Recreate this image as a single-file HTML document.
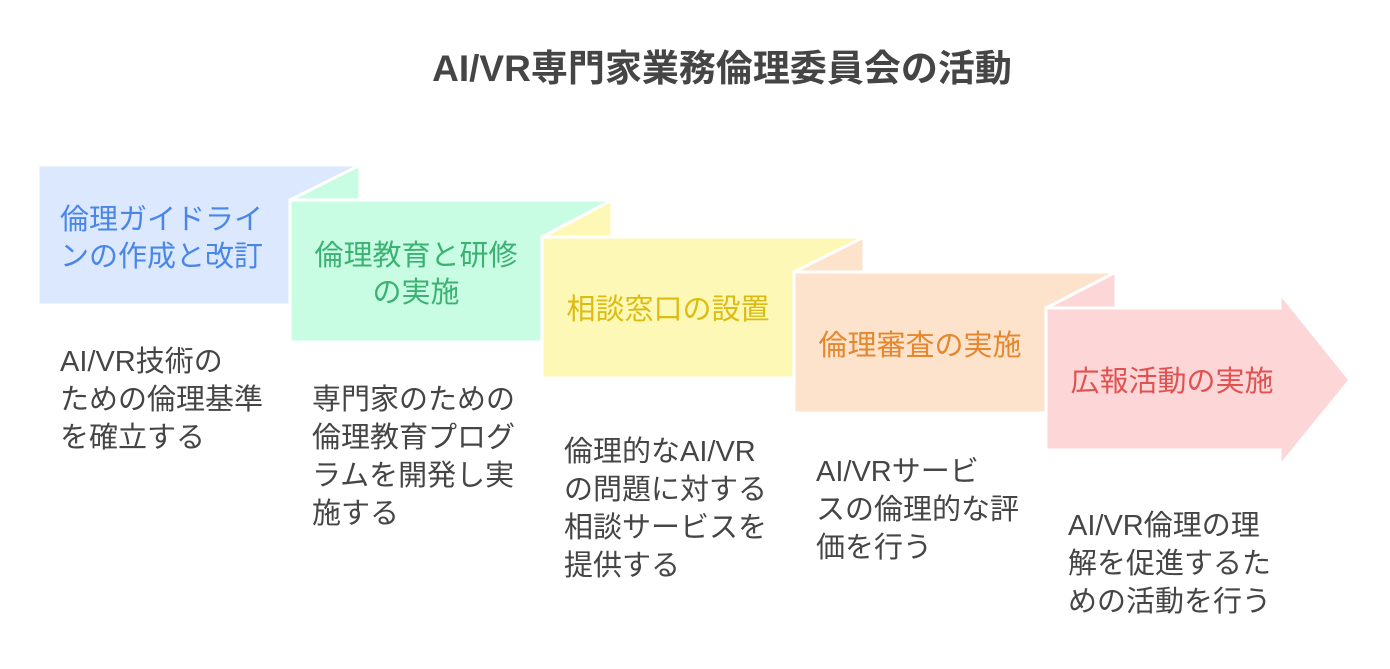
<!DOCTYPE html>
<html><head><meta charset="utf-8"><style>
html,body{margin:0;padding:0;background:#fff;}
svg{display:block;}
text{font-family:"Liberation Sans","Noto Sans CJK JP",sans-serif;}
</style></head><body>
<svg width="1390" height="669" viewBox="0 0 1390 669" xmlns="http://www.w3.org/2000/svg">
<text x="722" y="81" text-anchor="middle" font-size="37" font-weight="bold" fill="#454545">AI/VR専門家業務倫理委員会の活動</text>

<g stroke="#fff" stroke-width="3">
<rect x="38" y="165" width="322" height="140" fill="#dbe8fd"/>
<polygon points="290,200 360,165 360,200" fill="#c9fde3"/>
<rect x="290" y="200" width="322" height="142" fill="#c9fde3"/>
<polygon points="542,237 612,200 612,237" fill="#fef8b7"/>
<rect x="542" y="237" width="322" height="141" fill="#fef8b7"/>
<polygon points="794,272 864,237 864,272" fill="#fde3cc"/>
<rect x="794" y="272" width="322" height="141" fill="#fde3cc"/>
<polygon points="1046,308 1116,272 1116,308" fill="#fdd7d7"/>
<polygon points="1046,308 1280,308 1280,293 1350,380 1280,466 1280,450 1046,450" fill="#fdd7d7"/>
</g>

<g font-size="29">
<text fill="#4a86e8"><tspan x="60" y="229">倫理ガイドライ</tspan><tspan x="60" y="266">ンの作成と改訂</tspan></text>
<text fill="#3bb273" text-anchor="middle"><tspan x="416" y="265">倫理教育と研修</tspan><tspan x="416" y="302">の実施</tspan></text>
<text fill="#dcbc12" text-anchor="middle"><tspan x="668" y="319">相談窓口の設置</tspan></text>
<text fill="#e5872e" text-anchor="middle"><tspan x="920" y="355">倫理審査の実施</tspan></text>
<text fill="#e05252" text-anchor="middle"><tspan x="1172" y="391">広報活動の実施</tspan></text>
</g>

<g font-size="29" fill="#454545">
<text><tspan x="60" y="371">AI/VR技術の</tspan><tspan x="60" y="409">ための倫理基準</tspan><tspan x="60" y="447">を確立する</tspan></text>
<text><tspan x="312" y="409">専門家のための</tspan><tspan x="312" y="447">倫理教育プログ</tspan><tspan x="312" y="485">ラムを開発し実</tspan><tspan x="312" y="523">施する</tspan></text>
<text><tspan x="564" y="461">倫理的なAI/VR</tspan><tspan x="564" y="499">の問題に対する</tspan><tspan x="564" y="537">相談サービスを</tspan><tspan x="564" y="575">提供する</tspan></text>
<text><tspan x="816" y="481">AI/VRサービ</tspan><tspan x="816" y="519">スの倫理的な評</tspan><tspan x="816" y="557">価を行う</tspan></text>
<text><tspan x="1068" y="535">AI/VR倫理の理</tspan><tspan x="1068" y="573">解を促進するた</tspan><tspan x="1068" y="611">めの活動を行う</tspan></text>
</g>
</svg>
</body></html>
